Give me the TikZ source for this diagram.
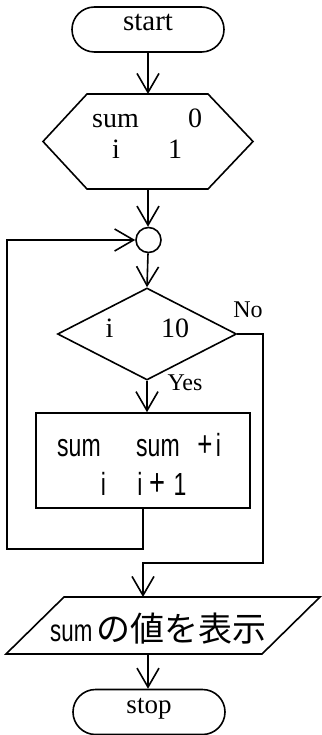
\documentclass[tikz,border=0pt]{standalone}
\usepackage{fontspec}
\setmainfont{Liberation Serif}
\newfontfamily\cjk{Noto Sans CJK JP}
\newfontfamily\narrowsans[FakeStretch=0.72]{Liberation Sans}
\usetikzlibrary{arrows.meta,shapes.misc,shapes.geometric}
\tikzset{
  ln/.style={line width=1.6pt, line join=miter},
  arr/.style={ln, -{Straight Barb[length=19pt,width=22pt,line width=1.6pt]}},
  term/.style={ln, draw, rounded rectangle, minimum width=152pt, minimum height=45pt, inner sep=0pt},
  lbl/.style={anchor=base, inner sep=0pt, font=\fontsize{28pt}{32pt}\selectfont},
  slbl/.style={anchor=base, inner sep=0pt, font=\fontsize{24pt}{28pt}\selectfont},
  nlbl/.style={anchor=base, inner sep=0pt, font=\fontsize{32pt}{36pt}\narrowsans},
}
\begin{document}
\begin{tikzpicture}[x=1pt,y=-1pt]
\useasboundingbox (0,0) rectangle (321,735);
% start
\node[term] (start) at (148,29.5) {};
\node[lbl, font=\fontsize{29pt}{33pt}\selectfont] (starttxt) at (148,31) {start};
% init hexagon
\coordinate (hn) at (148,94);
\coordinate (hs) at (148,189);
\draw[ln] (43,141.5) -- (87,94) -- (208,94) -- (253,141.5) -- (208,189) -- (87,189) -- cycle;
\node[lbl, anchor=base west] (h1) at (92,128) {sum};
\node[lbl] (h2) at (195,128) {0};
\node[lbl] (h3) at (116,159) {i};
\node[lbl] (h4) at (175,159) {1};
% connector circle
\node[ln, draw, circle, minimum size=25pt, inner sep=0pt] (join) at (148.5,240) {};
% decision
\node[ln, draw, diamond, minimum width=179pt, minimum height=92pt, inner sep=0pt] (dec) at (147,334) {};
\node[lbl] (d1) at (109.5,337) {i};
\node[lbl] (d2) at (175,337) {10};
\node[slbl] (no) at (248,317) {No};
\node[slbl] (yes) at (185,390) {Yes};
% process box
\node[ln, draw, rectangle, minimum width=214pt, minimum height=95pt, inner sep=0pt] (box) at (143,460.5) {};
\node[nlbl, anchor=base west] (b1) at (57,456) {sum};
\node[nlbl, anchor=base west] (b2) at (136,456) {sum};
\node[nlbl, font=\fontsize{36pt}{40pt}\narrowsans] (b2p) at (205,456) {+};
\node[nlbl] (b2i) at (218.5,456) {i};
\node[nlbl] (b3) at (103.5,495) {i};
\node[nlbl] (b4i) at (140,495) {i};
\node[nlbl, font=\fontsize{38pt}{42pt}\narrowsans] (b4p) at (157.5,495) {+};
\node[nlbl] (b4o) at (180,495) {1};
% output parallelogram
\coordinate (pn) at (143,597);
\coordinate (ps) at (148,654);
\draw[ln] (6,654) -- (64,597) -- (320,597) -- (262,654) -- cycle;
\node[anchor=base west, inner sep=0pt, font=\fontsize{31pt}{35pt}\narrowsans] (psum) at (50,641) {sum};
\node[anchor=base west, inner sep=0pt, font=\fontsize{34pt}{38pt}\cjk] (ptxt) at (96,641) {の値を表示};
% stop
\node[term] (stop) at (149,712) {};
\node[lbl, font=\fontsize{27pt}{31pt}\selectfont] (stoptxt) at (149,713) {stop};
% connectors
\draw[arr] (start.south -| hn) -- (hn);
\draw[arr] (hs) -- (hs |- join.north);
\draw[arr] (join.south -| hs) -- (dec.north);
\draw[arr] (dec.south) -- (dec.south |- box.north);
\coordinate (lb) at (7,549);
\draw[arr] (box.south) |- (lb) |- (join.west);
\coordinate (nr) at (263,563);
\draw[arr] (dec.east) -| (nr) -| (pn);
\draw[arr] (ps) -- (ps |- stop.north);
\end{tikzpicture}
\end{document}
